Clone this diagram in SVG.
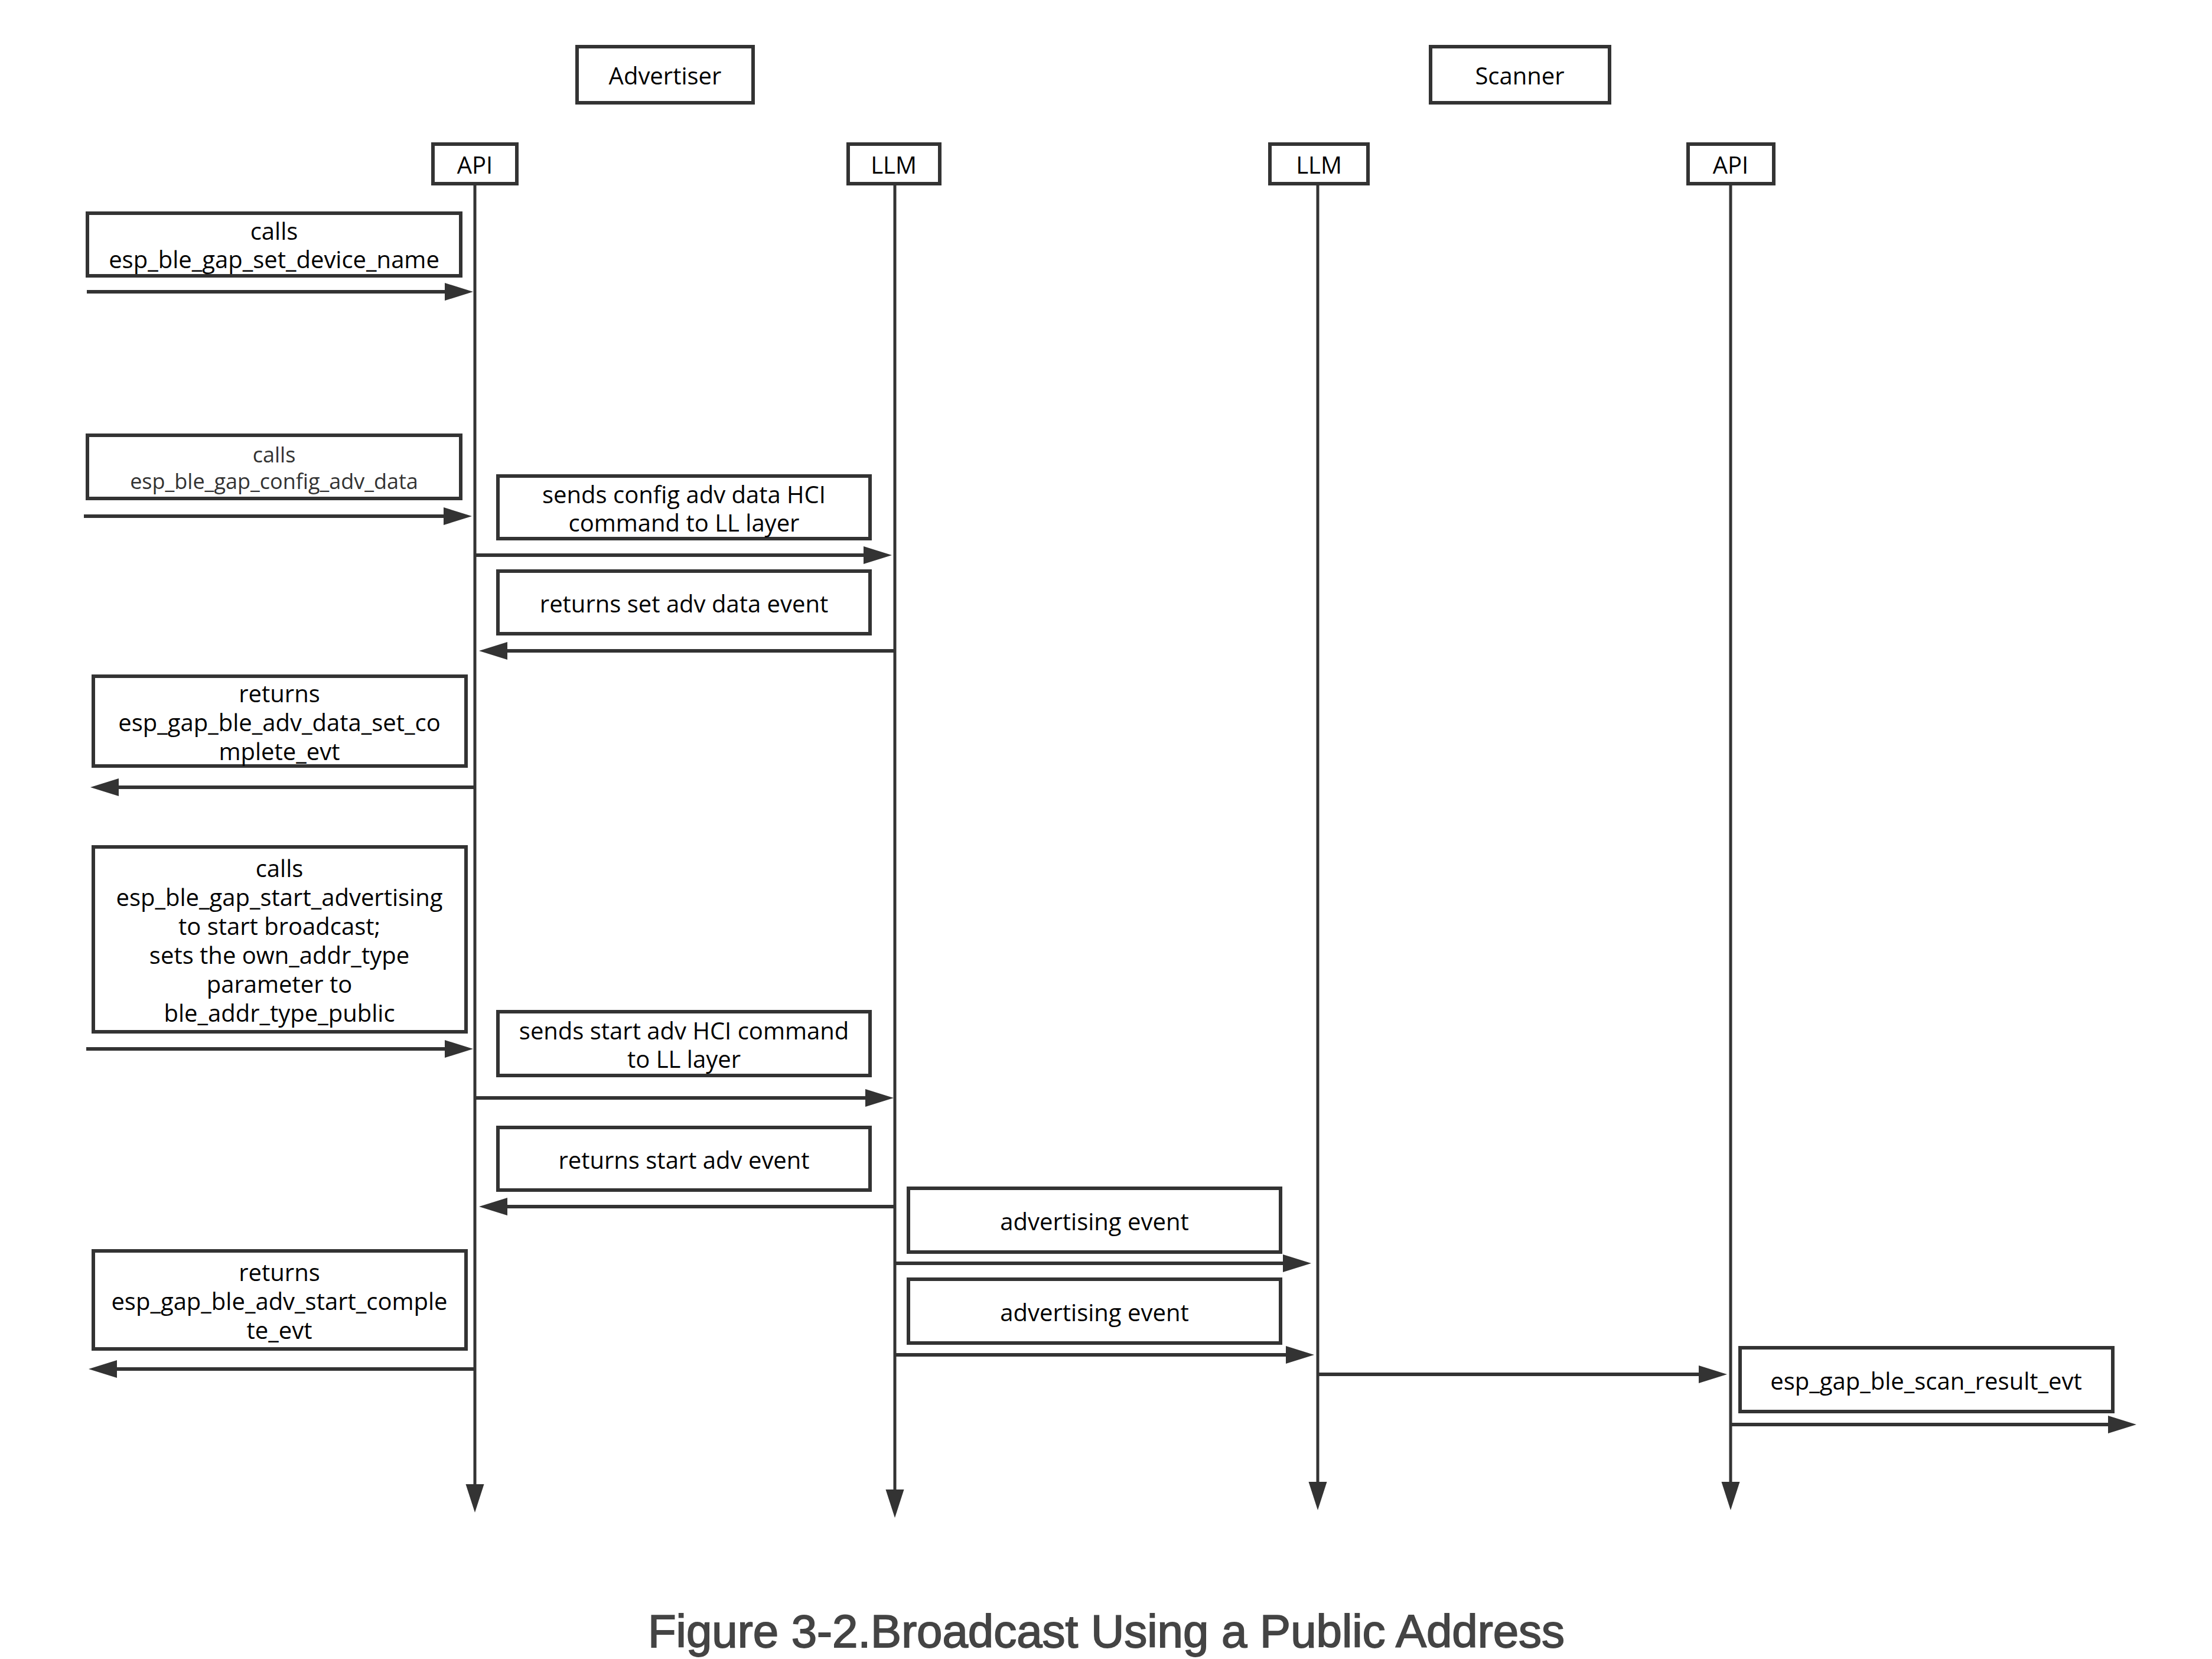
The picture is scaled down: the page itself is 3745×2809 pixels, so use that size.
<svg xmlns="http://www.w3.org/2000/svg" width="3745" height="2809" viewBox="0 0 3745 2809">
  <style>
    .box { fill: #ffffff; stroke: #333333; stroke-width: 6; }
    .life { stroke: #333333; stroke-width: 5; fill: none; }
    .msg { stroke: #333333; stroke-width: 6; fill: none; }
    .t { font-family: "Open Sans", "Noto Sans", "DejaVu Sans", sans-serif; font-size: 40px; fill: #000000; text-anchor: middle; }
    .ts { font-family: "Open Sans", "Noto Sans", "DejaVu Sans", sans-serif; font-size: 36px; fill: #333333; text-anchor: middle; }
    .title { font-family: "Liberation Sans", Arial, sans-serif; font-size: 78px; fill: #444444; stroke: #444444; stroke-width: 1.8; text-anchor: middle; }
  </style>
  <defs>
    <marker id="head" markerUnits="userSpaceOnUse" markerWidth="48" markerHeight="30" refX="0" refY="15" orient="auto" overflow="visible">
      <path d="M0,0 L48,15 L0,30 Z" fill="#333333"/>
    </marker>
    <marker id="lifehead" markerUnits="userSpaceOnUse" markerWidth="48" markerHeight="31" refX="0" refY="15.5" orient="auto" overflow="visible">
      <path d="M0,0 L48,15.5 L0,31 Z" fill="#333333"/>
    </marker>
  </defs>
  <rect width="3745" height="2809" fill="#ffffff"/>

  <!-- lifelines and messages -->
  <g id="connectors">
    <line class="life" x1="804" y1="311" x2="804" y2="2513" marker-end="url(#lifehead)"/>
    <line class="life" x1="1515" y1="311" x2="1515" y2="2522" marker-end="url(#lifehead)"/>
    <line class="life" x1="2231" y1="311" x2="2231" y2="2509" marker-end="url(#lifehead)"/>
    <line class="life" x1="2930" y1="311" x2="2930" y2="2509" marker-end="url(#lifehead)"/>

    <line class="msg" x1="147" y1="494" x2="753" y2="494" marker-end="url(#head)"/>
    <line class="msg" x1="142" y1="874" x2="751" y2="874" marker-end="url(#head)"/>
    <line class="msg" x1="804" y1="940" x2="1462" y2="940" marker-end="url(#head)"/>
    <line class="msg" x1="1515" y1="1102" x2="859" y2="1102" marker-end="url(#head)"/>
    <line class="msg" x1="804" y1="1333" x2="201" y2="1333" marker-end="url(#head)"/>
    <line class="msg" x1="146" y1="1776" x2="753" y2="1776" marker-end="url(#head)"/>
    <line class="msg" x1="804" y1="1859" x2="1465" y2="1859" marker-end="url(#head)"/>
    <line class="msg" x1="1515" y1="2043" x2="859" y2="2043" marker-end="url(#head)"/>
    <line class="msg" x1="1515" y1="2139" x2="2172" y2="2139" marker-end="url(#head)"/>
    <line class="msg" x1="1515" y1="2294" x2="2177" y2="2294" marker-end="url(#head)"/>
    <line class="msg" x1="2231" y1="2327" x2="2876" y2="2327" marker-end="url(#head)"/>
    <line class="msg" x1="2930" y1="2412" x2="3569" y2="2412" marker-end="url(#head)"/>
    <line class="msg" x1="804" y1="2318" x2="198" y2="2318" marker-end="url(#head)"/>
  </g>

  <!-- participants -->
  <g id="advertiser">
    <rect class="box" x="977" y="79" width="298" height="95"/>
    <text class="t" x="1126" y="143">Advertiser</text>
  </g>
  <g id="scanner">
    <rect class="box" x="2422" y="79" width="303" height="95"/>
    <text class="t" x="2573" y="143">Scanner</text>
  </g>
  <g id="adv-api">
    <rect class="box" x="733" y="244" width="142" height="67"/>
    <text class="t" x="804" y="294">API</text>
  </g>
  <g id="adv-llm">
    <rect class="box" x="1436" y="244" width="155" height="67"/>
    <text class="t" x="1513" y="294">LLM</text>
  </g>
  <g id="scan-llm">
    <rect class="box" x="2150" y="244" width="166" height="67"/>
    <text class="t" x="2233" y="294">LLM</text>
  </g>
  <g id="scan-api">
    <rect class="box" x="2858" y="244" width="145" height="67"/>
    <text class="t" x="2930" y="294">API</text>
  </g>

  <!-- message labels -->
  <g id="set-device-name">
    <rect class="box" x="148" y="361" width="632" height="106"/>
    <text class="t"><tspan x="464" y="406">calls</tspan><tspan x="464" y="454">esp_ble_gap_set_device_name</tspan></text>
  </g>
  <g id="config-adv-data">
    <rect class="box" x="148" y="737" width="632" height="107"/>
    <text class="ts"><tspan x="464" y="783">calls</tspan><tspan x="464" y="828">esp_ble_gap_config_adv_data</tspan></text>
  </g>
  <g id="send-config-hci">
    <rect class="box" x="843" y="806" width="630" height="106"/>
    <text class="t"><tspan x="1158" y="852">sends config adv data HCI</tspan><tspan x="1158" y="900">command to LL layer</tspan></text>
  </g>
  <g id="set-adv-data-event">
    <rect class="box" x="843" y="967" width="630" height="106"/>
    <text class="t" x="1158" y="1037">returns set adv data event</text>
  </g>
  <g id="adv-data-set-complete">
    <rect class="box" x="158" y="1145" width="631" height="152"/>
    <text class="t"><tspan x="473" y="1189">returns</tspan><tspan x="473" y="1238">esp_gap_ble_adv_data_set_co</tspan><tspan x="473" y="1287">mplete_evt</tspan></text>
  </g>
  <g id="start-advertising">
    <rect class="box" x="158" y="1434" width="631" height="313"/>
    <text class="t"><tspan x="473" y="1485">calls</tspan><tspan x="473" y="1534">esp_ble_gap_start_advertising</tspan><tspan x="473" y="1583">to start broadcast;</tspan><tspan x="473" y="1632">sets the own_addr_type</tspan><tspan x="473" y="1681">parameter to</tspan><tspan x="473" y="1730">ble_addr_type_public</tspan></text>
  </g>
  <g id="send-start-hci">
    <rect class="box" x="843" y="1713" width="630" height="108"/>
    <text class="t"><tspan x="1158" y="1760">sends start adv HCI command</tspan><tspan x="1158" y="1808">to LL layer</tspan></text>
  </g>
  <g id="start-adv-event">
    <rect class="box" x="843" y="1909" width="630" height="106"/>
    <text class="t" x="1158" y="1979">returns start adv event</text>
  </g>
  <g id="advertising-event-1">
    <rect class="box" x="1538" y="2012" width="630" height="108"/>
    <text class="t" x="1853" y="2083">advertising event</text>
  </g>
  <g id="advertising-event-2">
    <rect class="box" x="1538" y="2166" width="630" height="108"/>
    <text class="t" x="1853" y="2237">advertising event</text>
  </g>
  <g id="adv-start-complete">
    <rect class="box" x="158" y="2118" width="631" height="166"/>
    <text class="t"><tspan x="473" y="2169">returns</tspan><tspan x="473" y="2218">esp_gap_ble_adv_start_comple</tspan><tspan x="473" y="2267">te_evt</tspan></text>
  </g>
  <g id="scan-result">
    <rect class="box" x="2946" y="2282" width="631" height="108"/>
    <text class="t" x="3261" y="2353">esp_gap_ble_scan_result_evt</text>
  </g>

  <text class="title" x="1873" y="2789">Figure 3-2.Broadcast Using a Public Address</text>
</svg>
